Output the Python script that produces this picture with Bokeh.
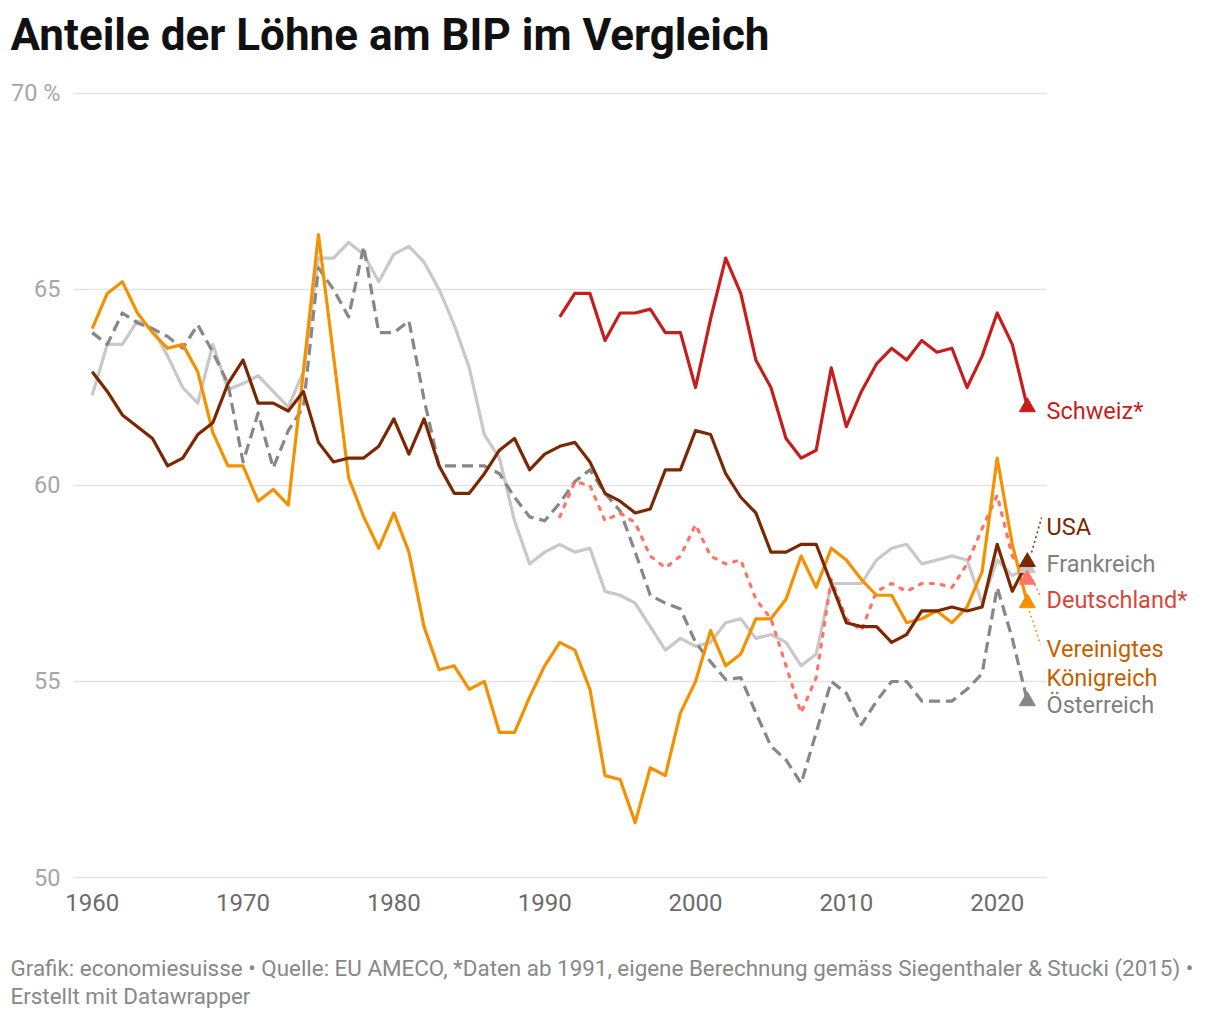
import numpy as np
from bokeh.plotting import figure
from bokeh.models import Range1d, FixedTicker, Title, ColumnDataSource
from bokeh.core.properties import value
from bokeh.embed import file_html
from bokeh.resources import INLINE

# ---------------- data ----------------
years = list(range(1960, 2023))
years_91 = list(range(1991, 2023))

uk = [64.0, 64.9, 65.2, 64.4, 63.9, 63.5, 63.6, 62.9, 61.35, 60.5,
      60.5, 59.6, 59.9, 59.5, 62.9, 66.4, 63.3, 60.2, 59.2, 58.4,
      59.3, 58.3, 56.4, 55.3, 55.4, 54.8, 55.0, 53.7, 53.7, 54.6,
      55.4, 56.0, 55.8, 54.8, 52.6, 52.5, 51.4, 52.8, 52.6, 54.2,
      55.0, 56.3, 55.4, 55.7, 56.6, 56.6, 57.1, 58.2, 57.4, 58.4,
      58.1, 57.6, 57.2, 57.2, 56.5, 56.6, 56.8, 56.5, 56.9, 57.8,
      60.7, 58.5, 57.0]

usa = [62.9, 62.4, 61.8, 61.5, 61.2, 60.5, 60.7, 61.3, 61.6, 62.6,
       63.2, 62.1, 62.1, 61.9, 62.4, 61.1, 60.6, 60.7, 60.7, 61.0,
       61.7, 60.8, 61.7, 60.5, 59.8, 59.8, 60.3, 60.9, 61.2, 60.4,
       60.8, 61.0, 61.1, 60.6, 59.8, 59.6, 59.3, 59.4, 60.4, 60.4,
       61.4, 61.3, 60.3, 59.7, 59.3, 58.3, 58.3, 58.5, 58.5, 57.5,
       56.5, 56.4, 56.4, 56.0, 56.2, 56.8, 56.8, 56.9, 56.8, 56.9,
       58.5, 57.3, 58.05]

frankreich = [62.3, 63.6, 63.6, 64.2, 64.0, 63.3, 62.5, 62.1, 63.6, 62.45,
              62.6, 62.8, 62.4, 62.0, 62.9, 65.8, 65.8, 66.2, 65.9, 65.2,
              65.9, 66.1, 65.7, 65.0, 64.1, 63.0, 61.3, 60.7, 59.1, 58.0,
              58.3, 58.5, 58.3, 58.4, 57.3, 57.2, 57.0, 56.4, 55.8, 56.1,
              55.9, 56.0, 56.5, 56.6, 56.1, 56.2, 56.0, 55.4, 55.7, 57.5,
              57.5, 57.5, 58.1, 58.4, 58.5, 58.0, 58.1, 58.2, 58.1, 57.0,
              58.1, 57.7, 57.9]

oesterreich = [63.9, 63.6, 64.4, 64.15, 64.0, 63.8, 63.5, 64.1, 63.4, 62.6,
               60.6, 61.85, 60.45, 61.4, 62.0, 65.55, 65.0, 64.3, 66.1, 63.9,
               63.9, 64.2, 62.2, 60.5, 60.5, 60.5, 60.5, 60.3, 59.7, 59.2,
               59.1, 59.55, 60.1, 60.4, 59.8, 59.35, 58.3, 57.2, 57.0, 56.85,
               56.0, 55.5, 55.05, 55.1, 54.2, 53.35, 53.0, 52.4, 53.7, 55.0,
               54.7, 53.9, 54.5, 55.0, 55.0, 54.5, 54.5, 54.5, 54.8, 55.2,
               57.4, 56.1, 54.5]

deutschland = [59.2, 60.1, 60.0, 59.1, 59.3, 59.05, 58.2, 57.9, 58.2, 59.0,
               58.2, 58.0, 58.1, 57.1, 56.6, 55.4, 54.2, 55.1, 57.6, 56.6,
               56.3, 57.3, 57.5, 57.3, 57.5, 57.5, 57.4, 58.0, 58.9, 59.75,
               58.2, 57.6]

schweiz = [64.3, 64.9, 64.9, 63.7, 64.4, 64.4, 64.5, 63.9, 63.9, 62.5,
           64.25, 65.8, 64.9, 63.2, 62.5, 61.2, 60.7, 60.9, 63.0, 61.5,
           62.4, 63.1, 63.5, 63.2, 63.7, 63.4, 63.5, 62.5, 63.3, 64.4,
           63.6, 62.0]

y_ticks = [50, 55, 60, 65, 70]
x_ticks = [1960, 1970, 1980, 1990, 2000, 2010, 2020]

label_names = ["Schweiz*", "USA", "Frankreich", "Deutschland*", "Vereinigtes", "Königreich", "Österreich"]
label_y = [61.91, 58.93, 58.01, 57.09, 55.82, 55.10, 54.39]
label_colors = ["#c71e1d", "#7b2800", "#7f7f7f", "#d5473a", "#c45f00", "#c45f00", "#7f7f7f"]

FONT = "Roboto"

# ---------------- figure ----------------
x_start, x_end = 1958.760, 2033.745
grid_end = 2023.27
y_start, y_end = 49.898, 70.663

p = figure(width=1204, height=1008,
           x_range=Range1d(x_start, x_end), y_range=Range1d(y_start, y_end),
           output_backend="svg", toolbar_location=None,
           min_border_left=73, min_border_right=0, min_border_top=0, min_border_bottom=0)
p.outline_line_color = None
p.xgrid.visible = False
p.ygrid.visible = False
p.background_fill_color = "white"
p.border_fill_color = "white"

# title
p.title.text = "Anteile der Löhne am BIP im Vergleich"
p.title.text_font = FONT
p.title.text_font_style = "bold"
p.title.text_font_size = "44px"
p.title.text_color = "#111111"
p.title.align = "left"
p.title.offset = -63
p.title.standoff = 13

# axes
p.yaxis.ticker = FixedTicker(ticks=y_ticks)
p.yaxis.major_label_overrides = {70: "70 %"}
p.yaxis.axis_line_color = None
p.yaxis.major_tick_line_color = None
p.yaxis.minor_tick_line_color = None
p.yaxis.major_tick_out = 0
p.yaxis.major_tick_in = 0
p.yaxis.major_label_standoff = 13
p.yaxis.major_label_text_font = FONT
p.yaxis.major_label_text_font_size = "23.5px"
p.yaxis.major_label_text_color = "#a6a6a6"

p.xaxis.ticker = FixedTicker(ticks=x_ticks)
p.xaxis.axis_line_color = None
p.xaxis.major_tick_line_color = None
p.xaxis.minor_tick_line_color = None
p.xaxis.major_tick_out = 0
p.xaxis.major_tick_in = 0
p.xaxis.major_label_standoff = 12
p.xaxis.major_label_text_font = FONT
p.xaxis.major_label_text_font_size = "24px"
p.xaxis.major_label_text_color = "#6b6b6b"

# footer
spacer = Title(text=" ", text_font_size="10px", standoff=26)
p.add_layout(spacer, "below")
f1 = Title(text="Grafik: economiesuisse \u2022 Quelle: EU AMECO, *Daten ab 1991, eigene Berechnung gemäss Siegenthaler & Stucki (2015) \u2022",
           text_font=FONT, text_font_size="22.4px", text_font_style="normal", text_color="#888888",
           align="left", offset=-63, standoff=0)
f2 = Title(text="Erstellt mit Datawrapper",
           text_font=FONT, text_font_size="22.4px", text_font_style="normal", text_color="#888888",
           align="left", offset=-63, standoff=0)
p.add_layout(f1, "below")
p.add_layout(f2, "below")

# gridlines
p.segment(x0=[x_start] * len(y_ticks), x1=[grid_end] * len(y_ticks), y0=y_ticks, y1=y_ticks,
          line_color="#e3e3e3", line_width=1.5)

# series
C_CH = "#c71e1d"
C_US = "#7b2800"
C_FR = "#c8c8c8"
C_DE = "#ff7466"
C_UK = "#f59100"
C_AT = "#878787"
LW = 3.2

p.line(years, frankreich, line_color=C_FR, line_width=LW, line_join="round")
p.line(years, oesterreich, line_color=C_AT, line_width=LW, line_dash="11 6", line_join="round")
p.line(years_91, deutschland, line_color=C_DE, line_width=LW, line_dash="3 8", line_cap="round", line_join="round")
p.line(years, uk, line_color=C_UK, line_width=LW, line_join="round")
p.line(years, usa, line_color=C_US, line_width=LW, line_join="round")
p.line(years_91, schweiz, line_color=C_CH, line_width=LW, line_join="round")

# end markers
end_x = [years[-1]] * 6
end_y = [frankreich[-1], oesterreich[-1], deutschland[-1], uk[-1], usa[-1], schweiz[-1]]
end_c = [C_FR, C_AT, C_DE, C_UK, C_US, C_CH]
p.scatter(end_x, end_y, marker="triangle", size=16, fill_color=end_c, line_color=end_c)

# leader lines (annotation connectors)
p.segment(x0=[2022.28], y0=[usa[-1] + 0.24], x1=[2022.94], y1=[59.18],
          line_color=C_US, line_width=1.5, line_dash="2 3")
p.segment(x0=[2022.34], y0=[deutschland[-1]], x1=[2022.87], y1=[57.17],
          line_color=C_DE, line_width=1.5, line_dash="2 3")
p.segment(x0=[2022.14], y0=[uk[-1] - 0.2], x1=[2022.87], y1=[55.94],
          line_color=C_UK, line_width=1.5, line_dash="2 3")

# labels
src = ColumnDataSource(dict(x=[grid_end] * len(label_names), y=label_y, t=label_names, c=label_colors))
p.text(x="x", y="y", text="t", text_color="c", source=src,
       text_font=value(FONT), text_font_size="23.5px", text_align="left", text_baseline="middle")

open("out.html", "w").write(file_html(p, INLINE))
